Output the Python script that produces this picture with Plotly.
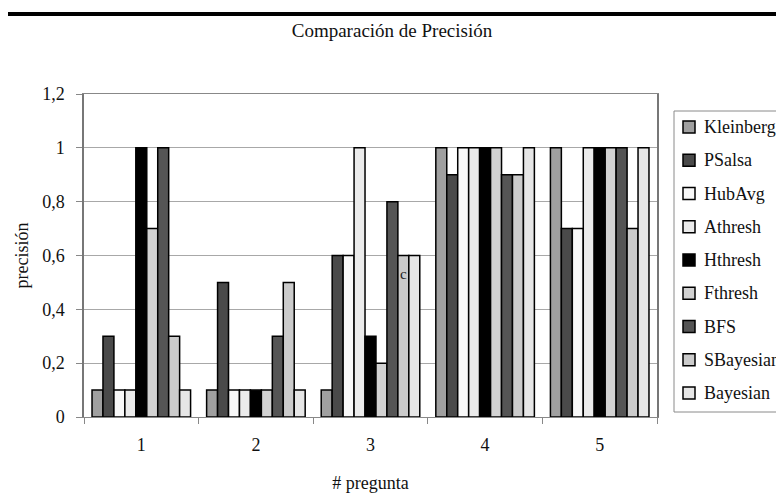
import plotly.graph_objects as go

categories = ["1", "2", "3", "4", "5"]
series_names = ["Kleinberg", "PSalsa", "HubAvg", "Athresh", "Hthresh",
                "Fthresh", "BFS", "SBayesian", "Bayesian"]
kleinberg = [0.1, 0.1, 0.1, 1.0, 1.0]
psalsa    = [0.3, 0.5, 0.6, 0.9, 0.7]
hubavg    = [0.1, 0.1, 0.6, 1.0, 0.7]
athresh   = [0.1, 0.1, 1.0, 1.0, 1.0]
hthresh   = [1.0, 0.1, 0.3, 1.0, 1.0]
fthresh   = [0.7, 0.1, 0.2, 1.0, 1.0]
bfs       = [1.0, 0.3, 0.8, 0.9, 1.0]
sbayesian = [0.3, 0.5, 0.6, 0.9, 0.7]
bayesian  = [0.1, 0.1, 0.6, 1.0, 1.0]
series_values = [kleinberg, psalsa, hubavg, athresh, hthresh,
                 fthresh, bfs, sbayesian, bayesian]
colors = ["#a0a0a0", "#4a4a4a", "#f8f8f8", "#ebebeb", "#000000",
          "#d2d2d2", "#555555", "#cbcbcb", "#e6e6e6"]
y_tickvals = [0, 0.2, 0.4, 0.6, 0.8, 1.0, 1.2]
y_ticktext = ["0", "0,2", "0,4", "0,6", "0,8", "1", "1,2"]

SERIF = "Liberation Serif"
TXT = "#111111"

fig = go.Figure()
for name, vals, col in zip(series_names, series_values, colors):
    fig.add_trace(go.Bar(
        x=categories, y=vals, name=name, showlegend=False,
        marker=dict(color=col, line=dict(color="#000000", width=1.5)),
    ))

# the page body keeps its default 8 px margin, so figure = page - 8
OFF = 8
W, H = 784 - OFF, 493 - OFF
L, R, T, B = 84 - OFF, 657 - OFF, 94 - OFF, 417 - OFF
pw, ph = R - L, B - T


def px(xp):
    return (xp - OFF - L) / pw


def py(yp):
    return (B - (yp - OFF)) / ph


shapes = [
    # top rule of the page
    dict(type="line", xref="paper", yref="paper", x0=px(OFF), x1=px(800),
         y0=py(14), y1=py(14), line=dict(color="#000000", width=4),
         layer="above"),
    # legend box
    dict(type="rect", xref="paper", yref="paper", x0=px(674), x1=px(810),
         y0=py(412), y1=py(111), line=dict(color="#8a8a8a", width=1),
         fillcolor="white", layer="above"),
]
annotations = [dict(text="c", x=2.287, y=0.53, xref="x", yref="y",
                    showarrow=False, font=dict(family=SERIF, size=15, color="#222222"))]

# legend entries (built from the series names / colours)
row0, step = 127, 33.25
for i, (name, col) in enumerate(zip(series_names, colors)):
    yc = row0 + i * step
    shapes.append(dict(type="rect", xref="paper", yref="paper",
                       x0=px(683), x1=px(695), y0=py(yc + 6), y1=py(yc - 6),
                       fillcolor=col, line=dict(color="#000000", width=1.5),
                       layer="above"))
    annotations.append(dict(text=name, xref="paper", yref="paper",
                            x=px(702), y=py(yc), xanchor="left", yanchor="middle",
                            showarrow=False,
                            font=dict(family=SERIF, size=18, color=TXT)))

fig.update_layout(
    width=W, height=H,
    margin=dict(l=L, r=W - R, t=T, b=H - B, autoexpand=False),
    paper_bgcolor="white", plot_bgcolor="white",
    barmode="group", bargap=0.14, bargroupgap=0.0,
    font=dict(family=SERIF, size=17, color=TXT),
    showlegend=False,
    title=dict(text="Comparación de Precisión", x=(392 - OFF) / W, xanchor="center",
               y=1 - (30 - OFF) / H, yanchor="middle", yref="container",
               font=dict(family=SERIF, size=19, color=TXT)),
    xaxis=dict(
        type="category", tickson="boundaries", ticks="outside", ticklen=6,
        tickcolor="#888888", showline=True, linecolor="#888888", linewidth=1,
        mirror=True, showgrid=False, ticklabelstandoff=11,
        tickfont=dict(family=SERIF, size=18, color=TXT),
        title=dict(text="# pregunta", standoff=22,
                   font=dict(family=SERIF, size=18, color=TXT)),
    ),
    yaxis=dict(
        range=[0, 1.2], tickvals=y_tickvals, ticktext=y_ticktext,
        ticks="outside", ticklen=6, tickcolor="#888888",
        showline=True, linecolor="#777777", linewidth=1.5, mirror=True,
        showgrid=True, gridcolor="#a8a8a8", gridwidth=1,
        ticklabelstandoff=8, zeroline=False,
        tickfont=dict(family=SERIF, size=18, color=TXT),
        title=dict(text="precisión", standoff=9,
                   font=dict(family=SERIF, size=18, color=TXT)),
    ),
    shapes=shapes,
    annotations=annotations,
)

fig.write_html("out.html", config={"displayModeBar": False})
